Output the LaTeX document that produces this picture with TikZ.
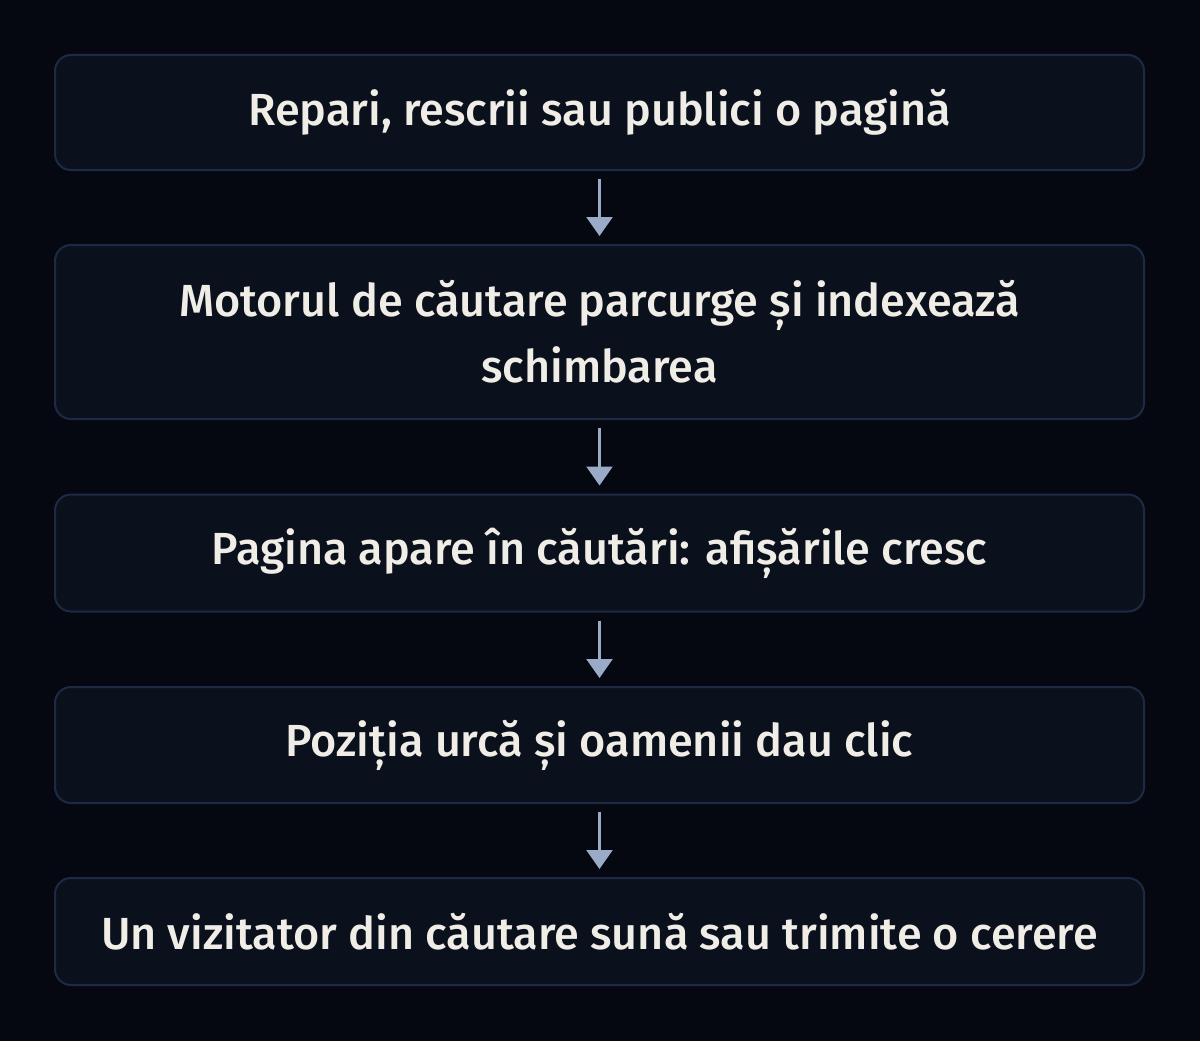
\documentclass[tikz,border=0pt]{standalone}
\usepackage{fontspec}
\setmainfont{Fira Sans}[UprightFont={* Medium}]
\usetikzlibrary{arrows.meta}
\definecolor{bg}{HTML}{050811}
\definecolor{boxfill}{HTML}{0A101C}
\definecolor{boxline}{HTML}{1E2A44}
\definecolor{txt}{HTML}{F0EDE6}
\definecolor{arrowc}{HTML}{9AABC8}
\tikzset{
  stepbox/.style={rectangle, rounded corners=16pt, draw=boxline, line width=2pt,
    fill=boxfill, text=txt, align=center, minimum width=1089pt, inner sep=0pt,
    font=\fontsize{45}{66}\selectfont},
  flowarrow/.style={draw=arrowc, line width=2.5pt, -{Triangle[width=26pt,length=19pt]}}
}
\begin{document}
\begin{tikzpicture}[x=1pt,y=-1pt]
\fill[bg] (0,0) rectangle (1200,1041);
\useasboundingbox (0,0) rectangle (1200,1041);
\node[stepbox, minimum height=115pt] (b1) at (599.5,112.5) {Repari, rescrii sau publici o pagină};
\node[stepbox, minimum height=174pt] (b2) at (599.5,332) {Motorul de căutare parcurge și indexează\\schimbarea};
\node[stepbox, minimum height=117pt] (b3) at (599.5,553) {Pagina apare în căutări: afișările cresc};
\node[stepbox, minimum height=116pt] (b4) at (599.5,745) {Poziția urcă și oamenii dau clic};
\node[stepbox, minimum height=107pt] (b5) at (599.5,931.5) {Un vizitator din căutare sună sau trimite o cerere};
\draw[flowarrow] ([yshift=-8pt]b1.south) -- ([yshift=8pt]b2.north);
\draw[flowarrow] ([yshift=-8pt]b2.south) -- ([yshift=8pt]b3.north);
\draw[flowarrow] ([yshift=-8pt]b3.south) -- ([yshift=8pt]b4.north);
\draw[flowarrow] ([yshift=-8pt]b4.south) -- ([yshift=8pt]b5.north);
\end{tikzpicture}
\end{document}
